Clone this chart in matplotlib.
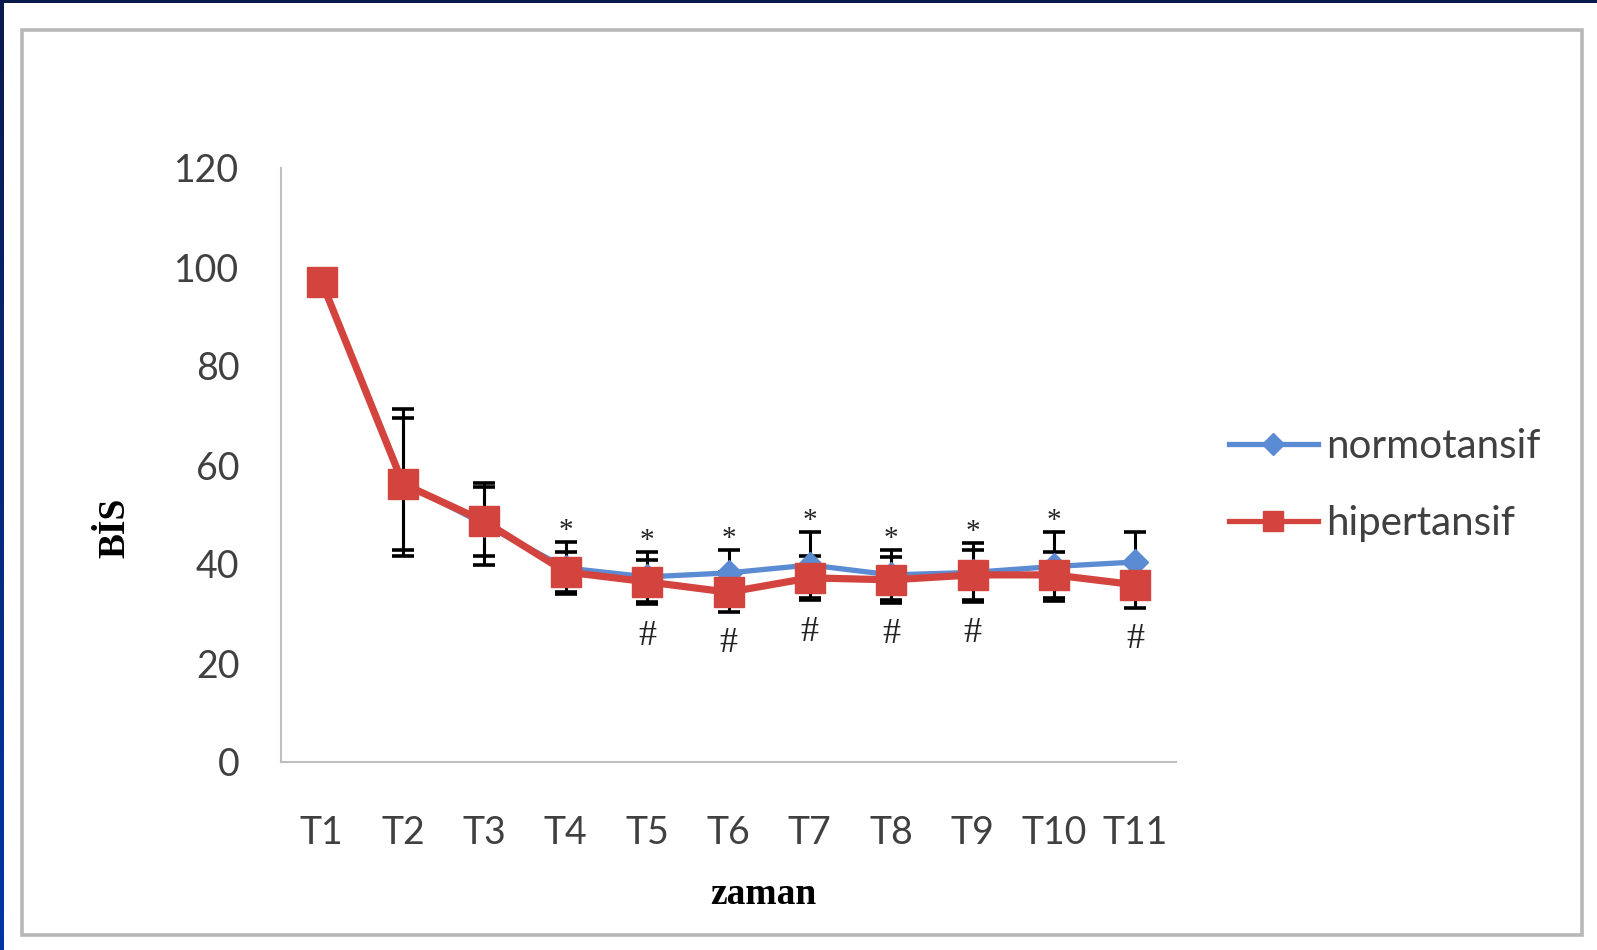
import numpy as np
import matplotlib
matplotlib.use("Agg")
import matplotlib.pyplot as plt
from matplotlib.lines import Line2D
from matplotlib.patches import Rectangle

# BIS values per time point
categories = ["T1", "T2", "T3", "T4", "T5", "T6", "T7", "T8", "T9", "T10", "T11"]
normo_mean = [97.0, 56.5, 48.0, 39.2, 37.4, 38.2, 39.8, 37.8, 38.3, 39.5, 40.4]
normo_sd = [2.0, 14.8, 8.3, 5.2, 5.0, 4.6, 6.7, 5.0, 5.9, 7.0, 6.1]
hiper_mean = [97.0, 56.2, 48.6, 38.4, 36.4, 34.3, 37.2, 36.8, 37.8, 37.8, 35.8]
hiper_sd = [2.0, 13.3, 7.0, 4.0, 4.5, 4.0, 4.5, 4.6, 5.0, 4.6, 4.7]
star_points = ["T4", "T5", "T6", "T7", "T8", "T9", "T10"]
hash_points = ["T5", "T6", "T7", "T8", "T9", "T11"]
y_ticks = [0, 20, 40, 60, 80, 100, 120]

BLUE = "#5b8bd3"
RED = "#d4443e"
GRID_GRAY = "#bfbfbf"
TXT = "#404040"

W, H = 1597, 950
fig = plt.figure(figsize=(W / 100, H / 100), dpi=100)
fig.patch.set_facecolor("white")

# outer frame
fig.patches.append(Rectangle((22 / W, 1 - 935 / H), (1582 - 22) / W, (935 - 30) / H,
                             transform=fig.transFigure, fill=False,
                             edgecolor="#b8b8b8", lw=2.6, zorder=0))

# navy slide edges (top and left)
top_ax = fig.add_axes([0, 1 - 3 / H, 1, 3 / H])
top_ax.imshow(np.zeros((1, 2)), cmap=matplotlib.colors.ListedColormap(["#0b1a4d"]),
              aspect="auto", extent=[0, 1, 0, 1])
top_ax.axis("off")
left_ax = fig.add_axes([0, 0, 4 / W, 1])
grad = np.linspace(0, 1, 256).reshape(-1, 1)
left_cmap = matplotlib.colors.LinearSegmentedColormap.from_list("edge", ["#0b1a4d", "#0036a8"])
left_ax.imshow(grad, cmap=left_cmap, aspect="auto", extent=[0, 1, 0, 1], origin="upper")
left_ax.axis("off")

ax = fig.add_axes([281 / W, 1 - 762 / H, (1176 - 281) / W, (762 - 168) / H])
ax.set_facecolor("none")
x = np.arange(len(categories))

err_kw = dict(ecolor="black", elinewidth=2.2, capsize=8, capthick=2.6, zorder=2)
ax.errorbar(x, normo_mean, yerr=normo_sd, fmt="none", **err_kw)
ax.errorbar(x, hiper_mean, yerr=hiper_sd, fmt="none", **err_kw)

ax.plot(x, normo_mean, color=BLUE, lw=3.8, marker="D", ms=13,
        markerfacecolor=BLUE, markeredgecolor=BLUE, zorder=3)
ax.plot(x, hiper_mean, color=RED, lw=5.2, marker="s", ms=22,
        markerfacecolor=RED, markeredgecolor=RED, zorder=4)

# significance marks
for lab in star_points:
    i = categories.index(lab)
    top = max(normo_mean[i] + normo_sd[i], hiper_mean[i] + hiper_sd[i])
    ax.annotate("*", (i, top), xytext=(0, 8), textcoords="offset points",
                ha="center", va="center", fontsize=21, family="Liberation Serif",
                color="#222222", zorder=5)
for lab in hash_points:
    i = categories.index(lab)
    bot = min(normo_mean[i] - normo_sd[i], hiper_mean[i] - hiper_sd[i])
    ax.annotate("#", (i, bot), xytext=(0, -23), textcoords="offset points",
                ha="center", va="center", fontsize=26, family="Liberation Serif",
                color="#222222", zorder=5)

ax.set_xlim(-0.5, len(categories) - 0.5)
ax.set_ylim(0, 120)
ax.set_yticks(y_ticks)
ax.set_xticks(x)
ax.set_xticklabels(categories)
for s in ["top", "right"]:
    ax.spines[s].set_visible(False)
for s in ["left", "bottom"]:
    ax.spines[s].set_color(GRID_GRAY)
    ax.spines[s].set_linewidth(1.5)
ax.tick_params(axis="both", length=0, labelsize=27, labelcolor=TXT)
ax.tick_params(axis="y", pad=30)
ax.tick_params(axis="x", pad=38)
for t in ax.get_xticklabels() + ax.get_yticklabels():
    t.set_family("Lato")

# axis titles
fig.text(763 / W, 1 - 894 / H, "zaman", ha="center", va="center",
         family="Liberation Serif", fontweight="bold", fontsize=27, color="black")
fig.text(115 / W, 1 - 528 / H, "BİS", ha="center", va="center", rotation=90,
         family="Liberation Serif", fontweight="bold", fontsize=27, color="black")

handles = [
    Line2D([], [], color=BLUE, lw=3.8, marker="D", ms=11, markerfacecolor=BLUE,
           markeredgecolor=BLUE),
    Line2D([], [], color=RED, lw=3.8, marker="s", ms=15, markerfacecolor=RED,
           markeredgecolor=RED),
]
leg = fig.legend(handles, ["normotansif", "hipertansif"], loc="center left",
                 bbox_to_anchor=(1229 / W, 1 - 485 / H), frameon=False,
                 prop={"family": "Lato", "size": 29}, handlelength=2.2,
                 handletextpad=0.2, labelspacing=0.98, borderpad=0, borderaxespad=0)
for t in leg.get_texts():
    t.set_color(TXT)

fig.savefig("out.png", dpi=100, facecolor="white")
